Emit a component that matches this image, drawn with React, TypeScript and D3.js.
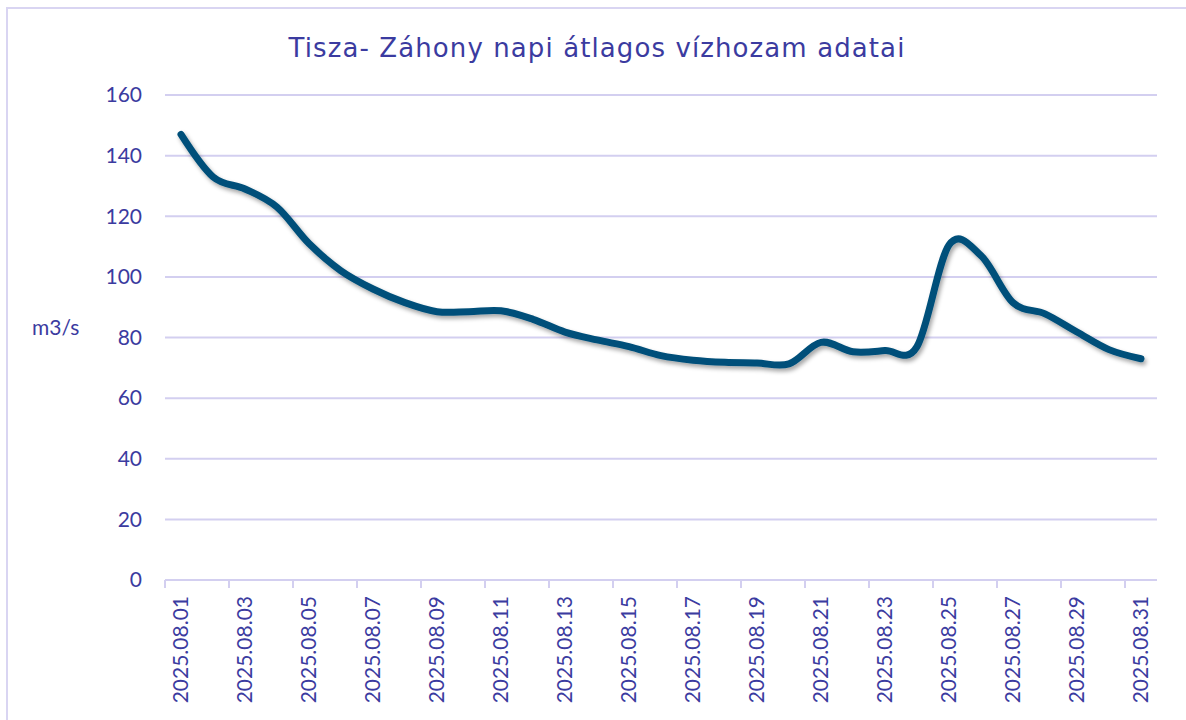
import React from "react";
import * as d3 from "d3";

const dates = [
  "2025.08.01","2025.08.02","2025.08.03","2025.08.04","2025.08.05","2025.08.06","2025.08.07","2025.08.08",
  "2025.08.09","2025.08.10","2025.08.11","2025.08.12","2025.08.13","2025.08.14","2025.08.15","2025.08.16",
  "2025.08.17","2025.08.18","2025.08.19","2025.08.20","2025.08.21","2025.08.22","2025.08.23","2025.08.24",
  "2025.08.25","2025.08.26","2025.08.27","2025.08.28","2025.08.29","2025.08.30","2025.08.31",
];
const flow = [
  147, 133, 129, 123, 111, 102, 96, 91.5,
  88.5, 88.5, 88.8, 86, 81.8, 79.2, 77, 74,
  72.5, 71.8, 71.6, 71.3, 78.4, 75.3, 75.7, 77,
  110.5, 107, 91.5, 87.8, 81.8, 76, 73,
];
const yTicks = [0, 20, 40, 60, 80, 100, 120, 140, 160];
const title = "Tisza- Záhony napi átlagos vízhozam adatai";
const unit = "m3/s";

const W = 1186, H = 720;
const left = 165, right = 1157, top = 95, bottom = 580;
const textColor = "#3B3BA0";
const gridColor = "#D3CFF0";
const lineColor = "#03507A";
const tickFont = "Lato, 'Open Sans', sans-serif";

export default function App() {
  const x = d3.scalePoint<string>().domain(dates).range([left, right]).padding(0.5);
  const step = x.step();
  const y = d3.scaleLinear().domain([0, 160]).range([bottom, top]);
  const line = d3
    .line<number>()
    .x((_, i) => x(dates[i]) as number)
    .y((d) => y(d))
    .curve(d3.curveCatmullRom.alpha(0));
  const labelDates = dates.filter((_, i) => i % 2 === 0);

  return (
    <svg width={W} height={H} style={{ position: "absolute", left: 0, top: 0, background: "#fff" }}>
      <defs>
        <filter id="sh" x="-10%" y="-10%" width="120%" height="130%">
          <feDropShadow dx="2" dy="3" stdDeviation="2.2" floodColor="#000" floodOpacity="0.35" />
        </filter>
      </defs>
      <rect x={7} y={8} width={W + 20} height={H + 20} fill="#fff" stroke="#D9D5F2" strokeWidth={2} />
      <text x={597} y={57} textAnchor="middle" fill={textColor} fontFamily="'DejaVu Sans', Verdana, sans-serif" fontSize={26} letterSpacing={1.1}>
        {title}
      </text>
      {yTicks.map((t) => (
        <g key={t}>
          <line x1={left} x2={right} y1={y(t)} y2={y(t)} stroke={gridColor} strokeWidth={2} />
          <text x={142} y={y(t)} dy="0.35em" textAnchor="end" fill={textColor} fontFamily={tickFont} fontSize={21}>
            {t}
          </text>
        </g>
      ))}
      <text x={32} y={328} dy="0.35em" fill={textColor} fontFamily={tickFont} fontSize={21}>
        {unit}
      </text>
      {labelDates.map((d) => {
        const cx = x(d) as number;
        return (
          <g key={d}>
            <line x1={cx - step / 2} x2={cx - step / 2} y1={bottom} y2={bottom + 8} stroke={gridColor} strokeWidth={2} />
            <text
              transform={`translate(${cx},${596}) rotate(-90)`}
              textAnchor="end"
              dy="0.35em"
              fill={textColor}
              fontFamily={tickFont}
              fontSize={21}
            >
              {d}
            </text>
          </g>
        );
      })}
      <path d={line(flow) || ""} fill="none" stroke={lineColor} strokeWidth={7} strokeLinecap="round" strokeLinejoin="round" filter="url(#sh)" />
    </svg>
  );
}
